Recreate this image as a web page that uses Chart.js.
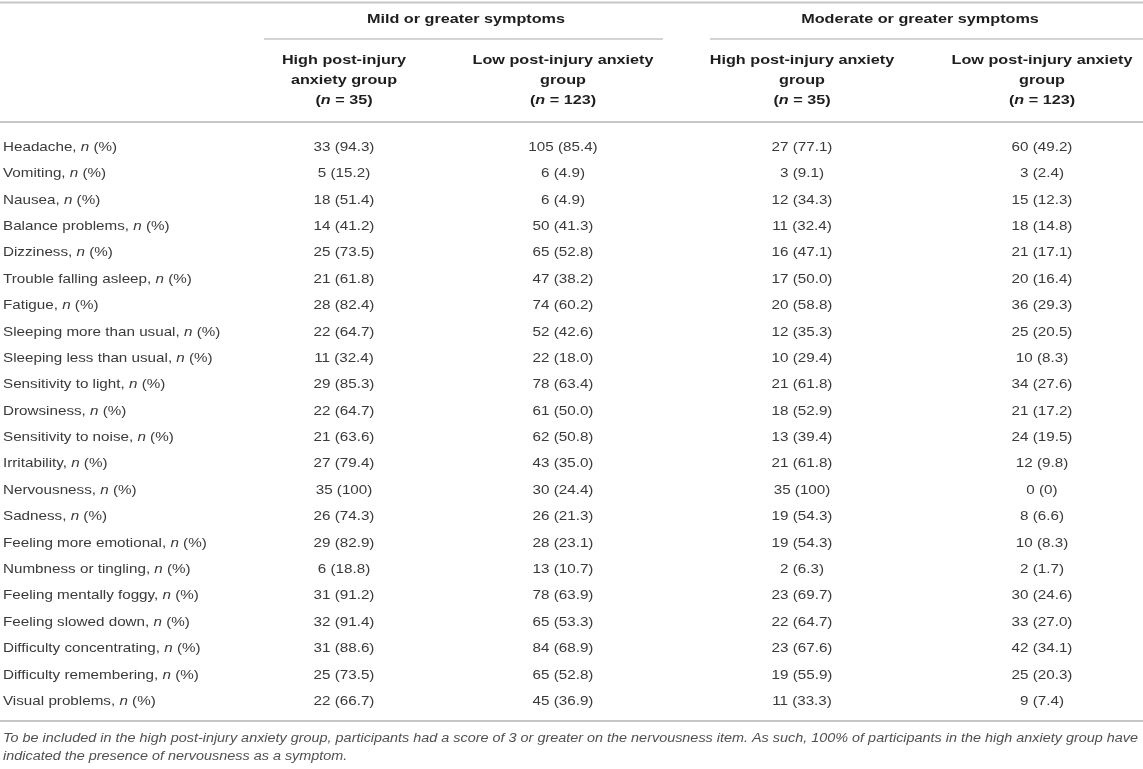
<!DOCTYPE html>
<html>
<head>
<meta charset="utf-8">
<script src="https://cdn.jsdelivr.net/npm/chart.js@4.4.1/dist/chart.umd.min.js"></script>
<style>
  html, body { margin: 0; padding: 0; background: #fff; }
  #wrap { width: 1143px; height: 769px; position: relative; }
</style>
</head>
<body>
<div id="wrap"><canvas id="table"></canvas></div>
<script>
// row labels (each followed by ", n (%)")
const symptoms = [
  "Headache", "Vomiting", "Nausea", "Balance problems", "Dizziness",
  "Trouble falling asleep", "Fatigue", "Sleeping more than usual",
  "Sleeping less than usual", "Sensitivity to light", "Drowsiness",
  "Sensitivity to noise", "Irritability", "Nervousness", "Sadness",
  "Feeling more emotional", "Numbness or tingling", "Feeling mentally foggy",
  "Feeling slowed down", "Difficulty concentrating", "Difficulty remembering",
  "Visual problems"
];

// mild or greater symptoms
const mildHighN   = [33, 5, 18, 14, 25, 21, 28, 22, 11, 29, 22, 21, 27, 35, 26, 29, 6, 31, 32, 31, 25, 22];
const mildHighPct = [94.3, 15.2, 51.4, 41.2, 73.5, 61.8, 82.4, 64.7, 32.4, 85.3, 64.7, 63.6, 79.4, 100, 74.3, 82.9, 18.8, 91.2, 91.4, 88.6, 73.5, 66.7];
const mildLowN    = [105, 6, 6, 50, 65, 47, 74, 52, 22, 78, 61, 62, 43, 30, 26, 28, 13, 78, 65, 84, 65, 45];
const mildLowPct  = [85.4, 4.9, 4.9, 41.3, 52.8, 38.2, 60.2, 42.6, 18.0, 63.4, 50.0, 50.8, 35.0, 24.4, 21.3, 23.1, 10.7, 63.9, 53.3, 68.9, 52.8, 36.9];

// moderate or greater symptoms
const modHighN    = [27, 3, 12, 11, 16, 17, 20, 12, 10, 21, 18, 13, 21, 35, 19, 19, 2, 23, 22, 23, 19, 11];
const modHighPct  = [77.1, 9.1, 34.3, 32.4, 47.1, 50.0, 58.8, 35.3, 29.4, 61.8, 52.9, 39.4, 61.8, 100, 54.3, 54.3, 6.3, 69.7, 64.7, 67.6, 55.9, 33.3];
const modLowN     = [60, 3, 15, 18, 21, 20, 36, 25, 10, 34, 21, 24, 12, 0, 8, 10, 2, 30, 33, 42, 25, 9];
const modLowPct   = [49.2, 2.4, 12.3, 14.8, 17.1, 16.4, 29.3, 20.5, 8.3, 27.6, 17.2, 19.5, 9.8, 0, 6.6, 8.3, 1.7, 24.6, 27.0, 34.1, 20.3, 7.4];

const groupHeaders = ["Mild or greater symptoms", "Moderate or greater symptoms"];
const colHeaders = [
  ["High post-injury", "anxiety group", "35"],
  ["Low post-injury anxiety", "group", "123"],
  ["High post-injury anxiety", "group", "35"],
  ["Low post-injury anxiety", "group", "123"]
];
const footnote = [
  "To be included in the high post-injury anxiety group, participants had a score of 3 or greater on the nervousness item. As such, 100% of participants in the high anxiety group have",
  "indicated the presence of nervousness as a symptom."
];

// layout (x in px across the table width)
const colCenter = [344, 563, 802, 1042];
const groupCenter = [466, 920];
const FONT = '"Liberation Sans", Arial, sans-serif';
const TEXT = '#3a3a3a';
const HEAD = '#1e1e1e';
const RULE = '#c6c6c6';
const BODY_SX = 1.17;   // reference glyphs are wider than Arial
const HEAD_SX = 1.2;

function fmtPct(v) {
  return (v === 100 || v === 0) ? String(v) : v.toFixed(1);
}

const columns = [
  [mildHighN, mildHighPct],
  [mildLowN, mildLowPct],
  [modHighN, modHighPct],
  [modLowN, modLowPct]
];

const datasets = columns.map((c, ci) => ({
  label: "col" + ci,
  data: symptoms.map((s, i) => ({ x: colCenter[ci], y: i, text: c[0][i] + " (" + fmtPct(c[1][i]) + ")" })),
  pointRadius: 0,
  pointHoverRadius: 0
}));

function rule(ctx, x1, x2, y, w) {
  ctx.save();
  ctx.strokeStyle = RULE;
  ctx.lineWidth = w || 1.5;
  ctx.beginPath();
  ctx.moveTo(x1, y);
  ctx.lineTo(x2, y);
  ctx.stroke();
  ctx.restore();
}

// draw text runs [[text, font], ...] with horizontal stretch sx
function runs(ctx, parts, x, y, align, sx) {
  let total = 0;
  const ws = parts.map(p => { ctx.font = p[1]; const w = ctx.measureText(p[0]).width; total += w; return w; });
  let start = x;
  if (align === 'center') start = x - total * sx / 2;
  else if (align === 'right') start = x - total * sx;
  ctx.save();
  ctx.translate(start, y);
  ctx.scale(sx, 1);
  ctx.textAlign = 'left';
  ctx.textBaseline = 'middle';
  let cx = 0;
  parts.forEach((p, i) => { ctx.font = p[1]; ctx.fillText(p[0], cx, 0); cx += ws[i]; });
  ctx.restore();
}

const tablePlugin = {
  id: 'tablePlugin',
  afterDraw(chart) {
    const ctx = chart.ctx;
    const xs = chart.scales.x, ys = chart.scales.y;
    const W = chart.width;

    // rules
    rule(ctx, 0, W, 2.5, 2);
    rule(ctx, xs.getPixelForValue(264), xs.getPixelForValue(663), 39);
    rule(ctx, xs.getPixelForValue(710), W, 39);
    rule(ctx, 0, W, 122, 2);
    rule(ctx, 0, W, 721, 2);

    const hb = 'bold 13.5px ' + FONT, hbi = 'italic bold 13.5px ' + FONT;
    const reg = '13px ' + FONT, it = 'italic 13px ' + FONT;

    ctx.save();
    ctx.fillStyle = HEAD;
    groupHeaders.forEach((g, gi) => {
      runs(ctx, [[g, hb]], xs.getPixelForValue(groupCenter[gi]), 19, 'center', HEAD_SX);
    });

    // column headers
    colHeaders.forEach((h, ci) => {
      const cx = xs.getPixelForValue(colCenter[ci]);
      runs(ctx, [[h[0], hb]], cx, 60, 'center', HEAD_SX);
      runs(ctx, [[h[1], hb]], cx, 80, 'center', HEAD_SX);
      runs(ctx, [['(', hb], ['n', hbi], [' = ' + h[2] + ')', hb]], cx, 100, 'center', HEAD_SX);
    });

    // row labels
    ctx.fillStyle = TEXT;
    symptoms.forEach((s, i) => {
      runs(ctx, [[s + ', ', reg], ['n', it], [' (%)', reg]], 3, ys.getPixelForValue(i), 'left', BODY_SX);
    });

    // cells
    chart.data.datasets.forEach((ds, di) => {
      chart.getDatasetMeta(di).data.forEach((el, i) => {
        runs(ctx, [[ds.data[i].text, reg]], el.x, el.y, 'center', BODY_SX);
      });
    });

    // footnote, stretched to the table width like the reference
    ctx.fillStyle = '#505050';
    const ff = 'italic 12.5px ' + FONT;
    ctx.font = ff;
    const fsx = 1135 / ctx.measureText(footnote[0]).width;
    runs(ctx, [[footnote[0], ff]], 3, 739, 'left', fsx);
    runs(ctx, [[footnote[1], ff]], 3, 757, 'left', fsx);
    ctx.restore();
  }
};

new Chart(document.getElementById('table'), {
  type: 'scatter',
  data: { datasets },
  options: {
    responsive: true,
    maintainAspectRatio: false,
    animation: false,
    events: [],
    layout: { padding: { left: 0, right: 0, top: 134, bottom: 54.4 } },
    plugins: { legend: { display: false }, tooltip: { enabled: false } },
    scales: {
      x: { type: 'linear', min: 0, max: 1143, display: false },
      y: { type: 'linear', min: -0.5, max: symptoms.length - 0.5, reverse: true, display: false }
    }
  },
  plugins: [tablePlugin]
});
</script>
</body>
</html>
